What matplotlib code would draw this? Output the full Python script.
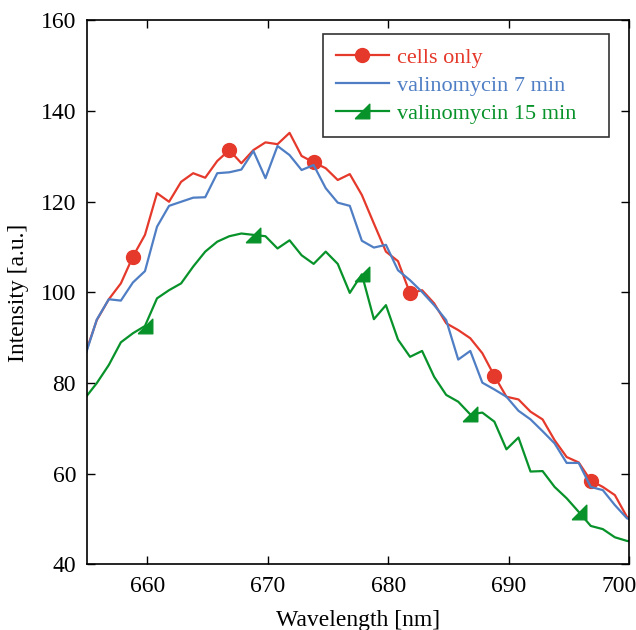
import matplotlib
matplotlib.use('Agg')
import matplotlib.pyplot as plt
from matplotlib.transforms import ScaledTranslation

# wavelength grid (nm)
wavelength = [654.8, 655.8, 656.8, 657.8, 658.8, 659.8, 660.8, 661.8, 662.8, 663.8,
              664.8, 665.8, 666.8, 667.8, 668.8, 669.8, 670.8, 671.8, 672.8, 673.8,
              674.8, 675.8, 676.8, 677.8, 678.8, 679.8, 680.8, 681.8, 682.8, 683.8,
              684.8, 685.8, 686.8, 687.8, 688.8, 689.8, 690.8, 691.8, 692.8, 693.8,
              694.8, 695.8, 696.8, 697.8, 698.8, 699.8, 700.8]

cells_only = [86.1, 93.9, 98.5, 102.0, 107.9, 112.7, 121.9, 120.0, 124.4, 126.3,
              125.3, 129.0, 131.4, 128.5, 131.4, 133.1, 132.7, 135.2, 130.1, 128.7,
              127.4, 124.8, 126.1, 121.5, 115.2, 109.0, 106.9, 99.8, 100.5, 97.6,
              93.2, 91.7, 89.9, 86.6, 81.6, 77.0, 76.4, 73.7, 72.0, 67.4,
              63.7, 62.5, 58.5, 57.1, 55.3, 50.5, 49.0]

valino_7 = [85.7, 94.0, 98.5, 98.2, 102.2, 104.7, 114.5, 119.1, 120.0, 120.9,
            121.0, 126.3, 126.5, 127.1, 131.2, 125.2, 132.3, 130.3, 127.0, 128.1,
            123.0, 119.8, 119.1, 111.4, 109.9, 110.5, 104.9, 102.7, 100.1, 97.2,
            93.9, 85.2, 87.1, 80.1, 78.6, 77.0, 73.9, 72.0, 69.4, 66.7,
            62.4, 62.4, 57.1, 56.4, 53.1, 50.2, 49.0]

valino_15 = [76.6, 80.0, 84.0, 89.0, 91.0, 92.6, 98.7, 100.5, 102.0, 105.7,
             109.0, 111.2, 112.4, 113.0, 112.7, 112.4, 109.7, 111.5, 108.2, 106.3,
             109.0, 106.3, 99.9, 104.0, 94.1, 97.2, 89.6, 85.8, 87.1, 81.4,
             77.4, 75.9, 73.1, 73.5, 71.5, 65.4, 68.0, 60.5, 60.6, 57.1,
             54.6, 51.6, 48.5, 47.8, 46.0, 45.2, 44.8]

labels = ['cells only', 'valinomycin 7 min', 'valinomycin 15 min']
red_marks = [4, 12, 19, 27, 34, 42]
green_marks = [5, 14, 23, 32, 41]

red = '#e5392b'
blue = '#4f7ec4'
green = '#08922a'

plt.rcParams['font.family'] = ['Liberation Serif', 'DejaVu Serif']

# right triangle marker, like a lower-right half square
tri = [(-1, -1), (1, -1), (1, 1), (-1, -1)]

fig = plt.figure(figsize=(6.36, 6.30), dpi=100)
ax = fig.add_axes([0.137, 0.104, 0.8525, 0.8636])

ax.plot(wavelength, cells_only, color=red, lw=1.6, marker='o', ms=10,
        markevery=red_marks, label=labels[0])
ax.plot(wavelength, valino_7, color=blue, lw=1.6, label=labels[1])
ax.plot(wavelength, valino_15, color=green, lw=1.6, marker=tri, ms=10.5,
        markevery=green_marks, label=labels[2])

ax.set_xlim(655, 700)
ax.set_ylim(40, 160)
ax.set_xticks([660, 670, 680, 690, 700])
ax.set_yticks([40, 60, 80, 100, 120, 140, 160])
ax.tick_params(direction='in', top=True, right=True, length=6, width=1,
               labelsize=17, pad=8)
for s in ax.spines.values():
    s.set_linewidth(1.2)

# last x tick label sits at the figure edge, nudge it in a little
fig.canvas.draw()
last = ax.get_xticklabels()[-1]
last.set_transform(last.get_transform() + ScaledTranslation(-0.1, 0, fig.dpi_scale_trans))

ax.set_xlabel('Wavelength [nm]', fontsize=17, labelpad=10)
ax.set_ylabel('Intensity [a.u.]', fontsize=17, labelpad=8)

leg = ax.legend(loc='upper left', bbox_to_anchor=(0.435, 0.9745, 0.5276, 0.0),
                mode='expand', borderaxespad=0, fontsize=16,
                frameon=True, fancybox=False, edgecolor='black',
                handlelength=2.35, handletextpad=0.4, labelspacing=0.32,
                borderpad=0.6)
leg.get_frame().set_linewidth(1.2)
for txt, c in zip(leg.get_texts(), [red, blue, green]):
    txt.set_color(c)

fig.savefig('out.png', dpi=100)
